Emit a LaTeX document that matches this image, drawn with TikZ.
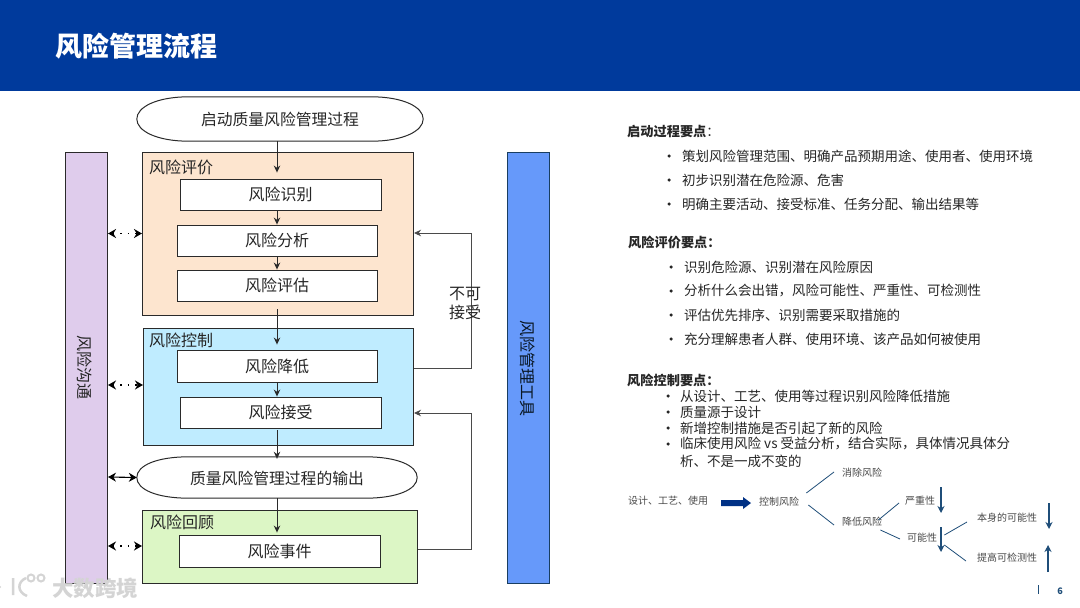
\documentclass[tikz,border=0pt]{standalone}
\usepackage{fontspec}
\setmainfont{Noto Sans CJK SC}
\usetikzlibrary{arrows.meta,calc}
\definecolor{hdr}{HTML}{003A9C}
\definecolor{lineK}{HTML}{2A2A2A}
\definecolor{peach}{HTML}{FDE5CF}
\definecolor{skyb}{HTML}{BFECFF}
\definecolor{leaf}{HTML}{DCF6C5}
\definecolor{lilac}{HTML}{DFCCEC}
\definecolor{toolb}{HTML}{6699FA}
\definecolor{navyA}{HTML}{1F4E79}
\definecolor{txtK}{HTML}{262626}
\definecolor{smallT}{HTML}{4A4A4A}
\definecolor{wm}{HTML}{D4D4D4}
\tikzset{
  panel/.style={draw=lineK,line width=1pt,inner sep=0pt,anchor=north west},
  stepbox/.style={draw=lineK,line width=0.9pt,fill=white,inner sep=0pt,font=\fontsize{16}{16}\selectfont,text=txtK},
  boxcap/.style={inner sep=0pt,anchor=west,font=\fontsize{16}{16}\selectfont,text=txtK},
  endbox/.style={inner sep=0pt,font=\fontsize{15.8}{16}\selectfont,text=txtK},
  ovalline/.style={draw=lineK,line width=1pt,fill=white},
  flow/.style={draw=lineK,line width=1pt,-{Stealth[length=7pt,width=6.5pt]}},
  fback/.style={draw=lineK!85,line width=0.9pt,-{Stealth[length=7pt,width=6.5pt]}},
  dotarrow/.style={draw=black,line width=1.5pt,dash pattern=on 1.5pt off 6pt,{Stealth[length=8pt,width=9pt]}-{Stealth[length=8pt,width=9pt]}},
  solidarrow/.style={draw=black,line width=1.1pt,{Stealth[length=8pt,width=9pt]}-{Stealth[length=8pt,width=9pt]}},
  headtxt/.style={inner sep=0pt,anchor=west,font=\fontsize{13.2}{13}\selectfont\bfseries,text=txtK},
  bultxt/.style={inner sep=0pt,anchor=west,font=\fontsize{13.5}{13.5}\selectfont,text=txtK},
  dotb/.style={fill=txtK,circle,inner sep=0pt,minimum size=3.5pt},
  smalltxt/.style={inner sep=0pt,anchor=west,font=\fontsize{10}{10}\selectfont,text=smallT},
  twig/.style={draw=navyA,line width=0.8pt},
  downarr/.style={draw=navyA,line width=1.1pt,-{Stealth[length=7pt,width=7pt]}},
}
\newcommand{\ovalpath}[1]{%
  \path[ovalline] (#1.west) .. controls ([yshift=12pt]#1.west) and ([xshift=20pt]#1.north west) .. ([xshift=52pt]#1.north west)
    -- ([xshift=-52pt]#1.north east) .. controls ([xshift=-20pt]#1.north east) and ([yshift=12pt]#1.east) .. (#1.east)
    .. controls ([yshift=-12pt]#1.east) and ([xshift=-20pt]#1.south east) .. ([xshift=-52pt]#1.south east)
    -- ([xshift=52pt]#1.south west) .. controls ([xshift=20pt]#1.south west) and ([yshift=-12pt]#1.west) .. cycle;}
\begin{document}
\begin{tikzpicture}[x=1pt,y=-1pt]
\useasboundingbox (0,0) rectangle (1080,608);
\fill[white] (0,0) rectangle (1080,608);
\fill[hdr] (0,0) rectangle (1080,91);
\node[inner sep=0pt,anchor=west,text=white,font=\fontsize{27}{27}\selectfont\bfseries] (title) at (55,46) {风险管理流程};

% side bars
\node[panel,fill=lilac,minimum width=42pt,minimum height=431pt] (comm) at (65,152) {};
\node[inner sep=0pt,rotate=-90,font=\fontsize{16}{16}\selectfont,text=txtK] (commT) at (85,367) {风险沟通};
\node[panel,draw=navyA!80!black,fill=toolb,minimum width=42pt,minimum height=431pt] (tool) at (507,152) {};
\node[inner sep=0pt,rotate=-90,font=\fontsize{16}{16}\selectfont,text=black!70!navyA] (toolT) at (528,368) {风险管理工具};

% panels
\node[panel,fill=peach,minimum width=271pt,minimum height=163pt] (pA) at (142,152) {};
\node[panel,fill=skyb,minimum width=270pt,minimum height=117pt] (pB) at (143,328) {};
\node[panel,fill=leaf,minimum width=275pt,minimum height=73pt] (pC) at (142,510) {};
\node[boxcap] (pAt) at (149,167) {风险评价};
\node[boxcap] (pBt) at (149,340) {风险控制};
\node[boxcap] (pCt) at (150,522) {风险回顾};

% ovals
\node[endbox,minimum width=286pt,minimum height=44pt] (start) at (280,119) {};
\ovalpath{start}
\node[endbox] (startT) at (280,119) {启动质量风险管理过程};
\node[endbox,minimum width=280pt,minimum height=41pt] (out) at (277,477.5) {};
\ovalpath{out}
\node[endbox] (outT) at (277,478) {质量风险管理过程的输出};

% steps
\node[stepbox,minimum width=201pt,minimum height=31pt] (s1) at (280.5,194.5) {风险识别};
\node[stepbox,minimum width=200pt,minimum height=31pt] (s2) at (277,240.5) {风险分析};
\node[stepbox,minimum width=200pt,minimum height=31pt] (s3) at (277,285.5) {风险评估};
\node[stepbox,minimum width=200pt,minimum height=32pt] (s4) at (277,366) {风险降低};
\node[stepbox,minimum width=201pt,minimum height=31pt] (s5) at (280.5,412.5) {风险接受};
\node[stepbox,minimum width=201pt,minimum height=32pt] (s6) at (279.5,551) {风险事件};

% flow arrows
\coordinate (ax) at (277,0);
\draw[flow,shorten >=6pt] (start.south -| ax) -- (s1.north -| ax);
\draw[flow] (s1.south -| ax) -- (s2.north -| ax);
\draw[flow] (s2.south -| ax) -- (s3.north -| ax);
\draw[flow,shorten <=8pt,shorten >=5pt] (s3.south -| ax) -- (s4.north -| ax);
\draw[flow] (s4.south -| ax) -- (s5.north -| ax);
\draw[flow,shorten <=2pt,shorten >=-2pt] (s5.south -| ax) -- (out.north -| ax);
\draw[flow,shorten >=2pt] (out.south -| ax) -- (s6.north -| ax);

% feedback loops
\coordinate (fb) at (471,0);
\coordinate (yA) at (0,233);
\coordinate (yB) at (0,368);
\coordinate (yC) at (0,413);
\coordinate (yD) at (0,549);
\draw[fback] (pB.east |- yB) -- (fb |- yB) -- (fb |- yA) -- (pA.east |- yA);
\draw[fback] (pC.east |- yD) -- (fb |- yD) -- (fb |- yC) -- (pB.east |- yC);
\node[inner sep=1pt,align=center,font=\fontsize{16}{19}\selectfont,text=txtK] (rej) at (465,303) {不可\\接受};

% communication arrows
\coordinate (yE) at (0,233.5);
\coordinate (yF) at (0,385);
\coordinate (yG) at (0,477);
\coordinate (yH) at (0,546);
\draw[dotarrow] (comm.east |- yE) -- (pA.west |- yE);
\draw[dotarrow] (comm.east |- yF) -- (pB.west |- yF);
\draw[solidarrow] (comm.east |- yG) -- (out.west);
\draw[dotarrow] (comm.east |- yH) -- (pC.west |- yH);

% right column
\node[headtxt] (h1) at (627,131) {启动过程要点\textmd{：}};
\node[bultxt] (a1) at (682,156) {策划风险管理范围、明确产品预期用途、使用者、使用环境};
\node[bultxt] (a2) at (682,180) {初步识别潜在危险源、危害};
\node[bultxt] (a3) at (682,204) {明确主要活动、接受标准、任务分配、输出结果等};
\node[dotb] (d1) at (669,156) {};
\node[dotb] (d2) at (669,180) {};
\node[dotb] (d3) at (669,204) {};

\node[headtxt] (h2) at (628,242) {风险评价要点：};
\node[bultxt] (b1) at (684,267) {识别危险源、识别潜在风险原因};
\node[bultxt] (b2) at (684,291) {分析什么会出错，风险可能性、严重性、可检测性};
\node[bultxt] (b3) at (684,315) {评估优先排序、识别需要采取措施的};
\node[bultxt] (b4) at (684,339) {充分理解患者人群、使用环境、该产品如何被使用};
\node[dotb] (e1) at (671,267) {};
\node[dotb] (e2) at (671,291) {};
\node[dotb] (e3) at (671,315) {};
\node[dotb] (e4) at (671,339) {};

\node[headtxt] (h3) at (627,380) {风险控制要点：};
\node[bultxt] (c1) at (680,396) {从设计、工艺、使用等过程识别风险降低措施};
\node[bultxt] (c2) at (680,412) {质量源于设计};
\node[bultxt] (c3) at (680,428) {新增控制措施是否引起了新的风险};
\node[bultxt] (c4) at (680,444) {临床使用风险 vs 受益分析，结合实际，具体情况具体分};
\node[bultxt] (c5) at (680,461) {析、不是一成不变的};
\node[dotb] (f1) at (668,396) {};
\node[dotb] (f2) at (668,412) {};
\node[dotb] (f3) at (668,428) {};
\node[dotb] (f4) at (668,444) {};

% small tree
\node[smalltxt] (t1) at (628,501) {设计、工艺、使用};
\node[smalltxt] (t2) at (759,502) {控制风险};
\node[smalltxt] (t3) at (842,473) {消除风险};
\node[smalltxt] (t4) at (842,522) {降低风险};
\node[smalltxt] (t5) at (905,501) {严重性};
\node[smalltxt] (t6) at (907,538) {可能性};
\node[smalltxt] (t7) at (977,518) {本身的可能性};
\node[smalltxt] (t8) at (977,558) {提高可检测性};
\draw[draw=none,fill=hdr!85!black] (721,500) -- (743,500) -- (743,497) -- (751,503) -- (743,509) -- (743,506) -- (721,506) -- cycle;
\draw[twig] ([shift={(7pt,9pt)}]t2.east) -- ([shift={(-8pt,1pt)}]t3.west);
\draw[twig] ([shift={(9pt,-3pt)}]t2.east) -- ([shift={(-8pt,-3pt)}]t4.west);
\draw[twig] ([shift={(-4pt,2pt)}]t4.east) -- ([shift={(-6pt,-2pt)}]t5.west);
\draw[twig] ([shift={(-2pt,-8pt)}]t4.east) -- ([shift={(-7pt,-1pt)}]t6.west);
\draw[twig] ([shift={(7pt,3pt)}]t6.east) -- ([shift={(-10pt,-4pt)}]t7.west);
\draw[twig] ([shift={(7pt,-7pt)}]t6.east) -- ([shift={(-11pt,-3pt)}]t8.west);
\coordinate (v1a) at (941,487); \coordinate (v1b) at (941,513);
\coordinate (v2a) at (941,527); \coordinate (v2b) at (941,552);
\coordinate (v3a) at (1049,503); \coordinate (v3b) at (1049,529);
\coordinate (v4a) at (1048,572); \coordinate (v4b) at (1048,545);
\draw[downarr] (v1a) -- (v1b);
\draw[downarr] (v2a) -- (v2b);
\draw[downarr] (v3a) -- (v3b);
\draw[downarr] (v4a) -- (v4b);

% page number
\fill[navyA] (1037.5,585) rectangle (1038.5,594);
\node[inner sep=0pt,font=\fontsize{9}{9}\selectfont\bfseries,text=navyA] (pg) at (1060,591) {6};

% watermark
\draw[wm,line width=2pt] (31,578) circle (3.5pt) (41,578) circle (3.5pt);
\draw[wm,line width=2.5pt] (13,578) -- (13,595) (26,578) .. controls (17,582) and (17,592) .. (27,596);
\fill[wm] (0,587) circle (1.2pt);
\node[inner sep=0pt,anchor=west,text=wm,font=\fontsize{21.5}{21.5}\selectfont\bfseries] (wmT) at (52,588) {大数跨境};
\end{tikzpicture}
\end{document}
